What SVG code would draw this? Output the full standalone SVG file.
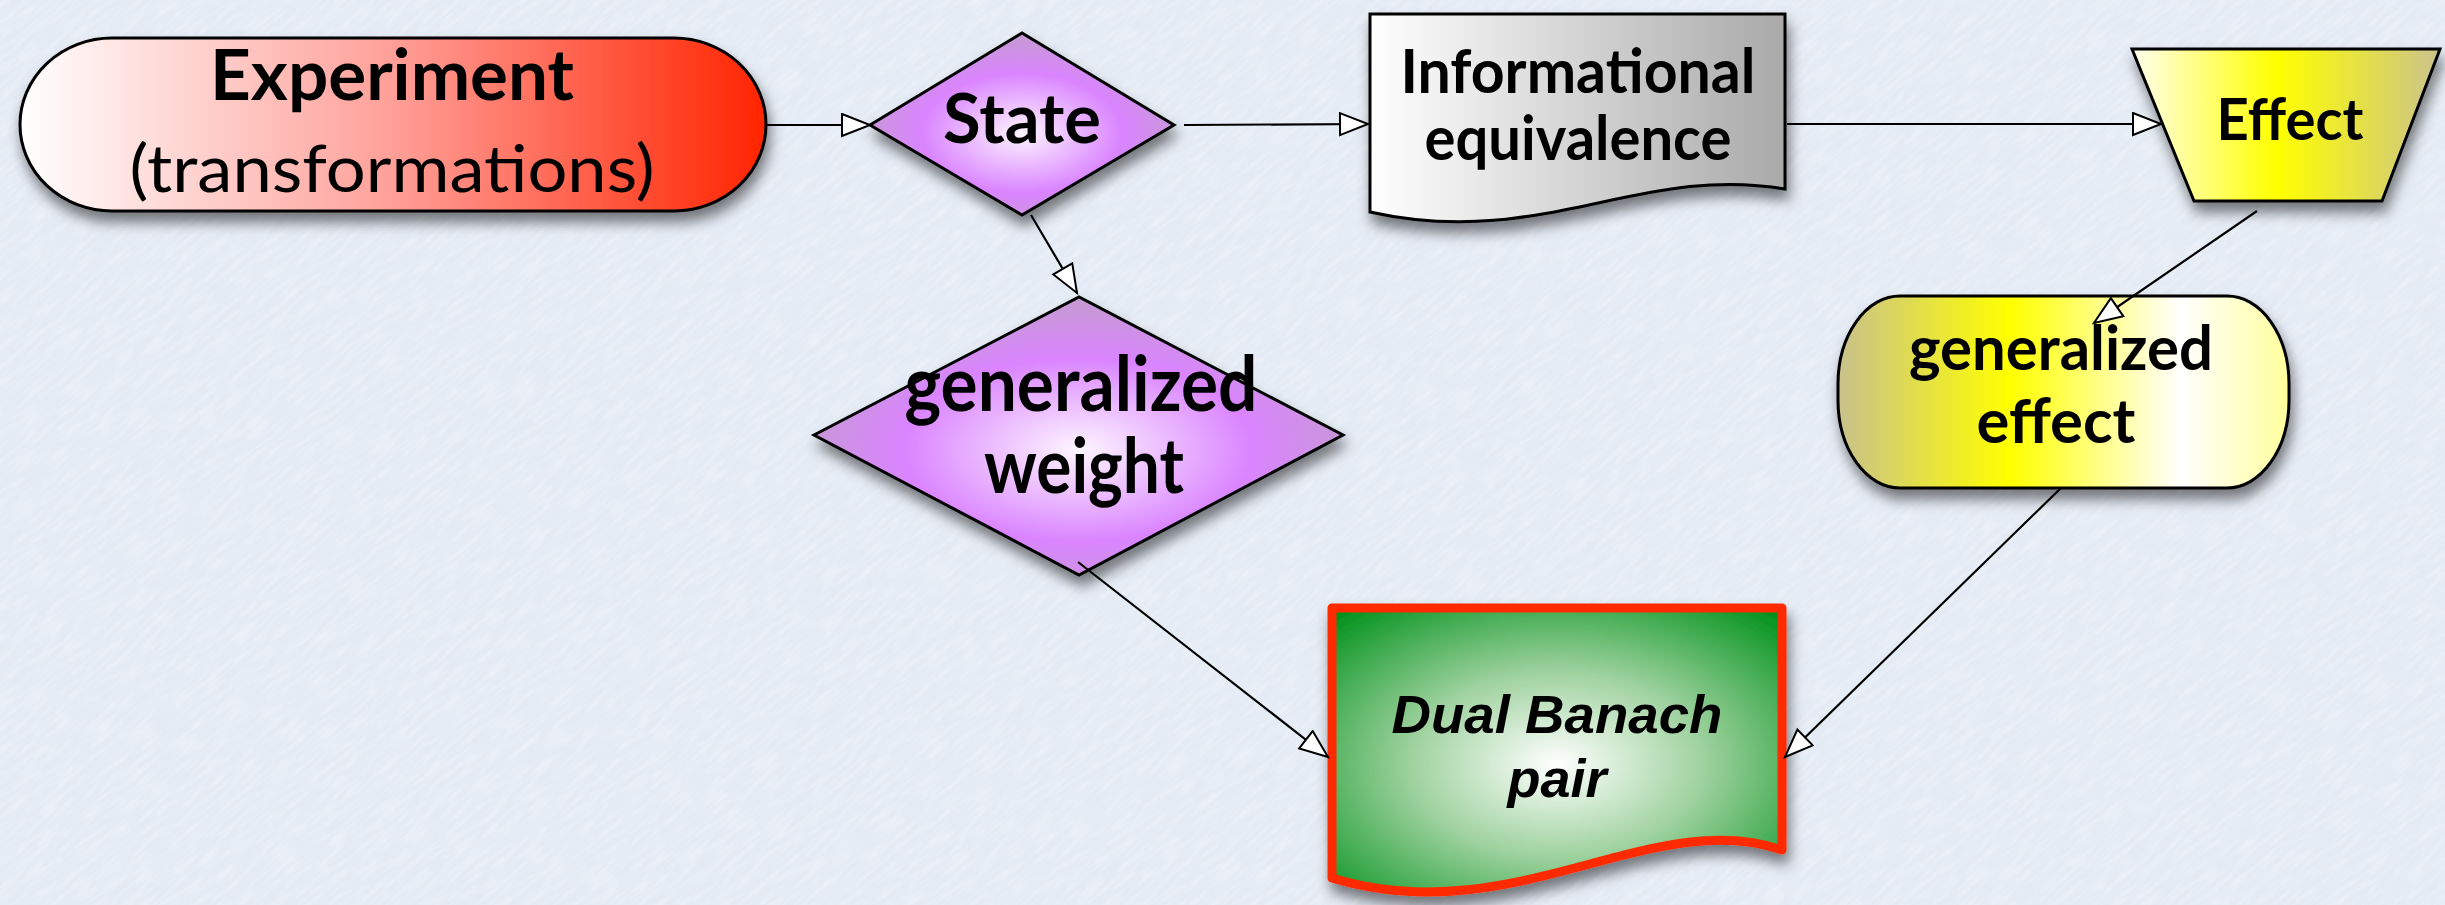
<svg xmlns="http://www.w3.org/2000/svg" width="2445" height="905" viewBox="0 0 2445 905">
<defs>
<style>
.lbl{font-family:Lato,"Open Sans","DejaVu Sans",sans-serif;font-weight:700;fill:#000;text-anchor:middle}
.reg{font-family:Lato,"Open Sans","DejaVu Sans",sans-serif;font-weight:400;fill:#000;text-anchor:middle}
.ital{font-family:"Liberation Sans",Arial,sans-serif;font-weight:700;font-style:italic;fill:#000;text-anchor:middle}
.node{stroke:#000;stroke-width:3;filter:url(#sh)}
.conn{fill:none;stroke:#000;stroke-width:2.2;marker-end:url(#ah)}
</style>
<filter id="sh" x="-20%" y="-20%" width="140%" height="150%">
<feDropShadow dx="3" dy="10" stdDeviation="7" flood-color="#000" flood-opacity="0.5"/>
</filter>
<filter id="paper" filterUnits="userSpaceOnUse" x="-600" y="-1000" width="3700" height="2900">
<feTurbulence type="fractalNoise" baseFrequency="0.035 0.22" numOctaves="3" seed="4"/>
<feColorMatrix type="matrix" values="0 0 0 0 1  0 0 0 0 1  0 0 0 0 1  0 0 0 -1.6 1.0"/>
</filter>
<marker id="ah" markerUnits="userSpaceOnUse" markerWidth="34" markerHeight="26" refX="30" refY="12" orient="auto">
<path d="M2,1 L30,12 L2,23 Z" fill="#fff" stroke="#000" stroke-width="2"/>
</marker>
<linearGradient id="gExp" x1="0" y1="0" x2="1" y2="0">
<stop offset="0" stop-color="#ffffff"/>
<stop offset="0.5" stop-color="#ff9f98"/>
<stop offset="1" stop-color="#ff2400"/>
</linearGradient>
<radialGradient id="gViolet" cx="0.5" cy="0.55" r="0.55">
<stop offset="0" stop-color="#fdf5ff"/>
<stop offset="0.6" stop-color="#da84ff"/>
<stop offset="1" stop-color="#c49ccf"/>
</radialGradient>
<linearGradient id="gGray" x1="0" y1="0" x2="1" y2="0">
<stop offset="0" stop-color="#ffffff"/>
<stop offset="1" stop-color="#a9a9a9"/>
</linearGradient>
<linearGradient id="gEff" x1="0" y1="0" x2="1" y2="0">
<stop offset="0" stop-color="#ffffee"/>
<stop offset="0.47" stop-color="#ffff00"/>
<stop offset="1" stop-color="#cbc38c"/>
</linearGradient>
<linearGradient id="gGenEff" x1="0" y1="0" x2="1" y2="0">
<stop offset="0" stop-color="#c8c18c"/>
<stop offset="0.38" stop-color="#ffff00"/>
<stop offset="0.76" stop-color="#ffffff"/>
<stop offset="1" stop-color="#ffff9c"/>
</linearGradient>
<radialGradient id="gGreen" cx="0.5" cy="0.55" r="0.72">
<stop offset="0" stop-color="#ffffff"/>
<stop offset="0.45" stop-color="#9fd29f"/>
<stop offset="1" stop-color="#00911a"/>
</radialGradient>
</defs>
<rect x="0" y="0" width="2445" height="905" fill="#e4ebf5"/>
<g transform="rotate(-40 1222 452)" opacity="0.4">
<rect x="-600" y="-1000" width="3700" height="2900" filter="url(#paper)"/>
</g>

<g id="experiment">
<rect class="node" x="20" y="38" width="746" height="173" rx="92" ry="86.5" fill="url(#gExp)"/>
<text class="lbl" x="392" y="100" font-size="70" textLength="364" lengthAdjust="spacingAndGlyphs">Experiment</text>
<text class="reg" x="392" y="192" font-size="66" textLength="525" lengthAdjust="spacingAndGlyphs">(transformations)</text>
</g>

<g id="state">
<polygon class="node" points="870,125 1022,33 1174,125 1022,215" fill="url(#gViolet)"/>
<text class="lbl" x="1022" y="143" font-size="68" textLength="158" lengthAdjust="spacingAndGlyphs">State</text>
</g>

<g id="informational-equivalence">
<path class="node" d="M1370,14 H1785 V189 C1640,164 1540,250 1370,212 Z" fill="url(#gGray)"/>
<text class="lbl" x="1578" y="93" font-size="62" textLength="355" lengthAdjust="spacingAndGlyphs">Informational</text>
<text class="lbl" x="1578" y="160" font-size="62" textLength="307" lengthAdjust="spacingAndGlyphs">equivalence</text>
</g>

<g id="effect">
<polygon class="node" points="2132,49 2440,49 2382,201 2194,201" fill="url(#gEff)"/>
<text class="lbl" x="2290" y="140" font-size="58" textLength="147" lengthAdjust="spacingAndGlyphs">Effect</text>
</g>

<g id="generalized-weight">
<polygon class="node" points="814,435 1079,297 1343,435 1079,575" fill="url(#gViolet)"/>
<text class="lbl" x="1081" y="411" font-size="76" textLength="353" lengthAdjust="spacingAndGlyphs">generalized</text>
<text class="lbl" x="1084" y="493" font-size="76" textLength="200" lengthAdjust="spacingAndGlyphs">weight</text>
</g>

<g id="generalized-effect">
<rect class="node" x="1838" y="296" width="451" height="192" rx="62" ry="88" fill="url(#gGenEff)"/>
<text class="lbl" x="2061" y="370" font-size="62" textLength="304" lengthAdjust="spacingAndGlyphs">generalized</text>
<text class="lbl" x="2056" y="443" font-size="62" textLength="159" lengthAdjust="spacingAndGlyphs">effect</text>
</g>

<g id="dual-banach-pair">
<path d="M1332,608 H1782 V850 C1652,805 1512,933 1332,878 Z" fill="url(#gGreen)" stroke="#ff2a00" stroke-width="9" stroke-linejoin="round" filter="url(#sh)"/>
<text class="ital" x="1557" y="733" font-size="54" textLength="331" lengthAdjust="spacingAndGlyphs">Dual Banach</text>
<text class="ital" x="1557" y="797" font-size="54">pair</text>
</g>

<g id="connectors">
<line class="conn" x1="766" y1="125" x2="870" y2="125"/>
<line class="conn" x1="1184" y1="125" x2="1368" y2="124"/>
<line class="conn" x1="1787" y1="124" x2="2161" y2="124"/>
<line class="conn" x1="1031" y1="215" x2="1077" y2="293"/>
<line class="conn" x1="2257" y1="211" x2="2094" y2="323"/>
<line class="conn" x1="1078" y1="562" x2="1328" y2="757"/>
<line class="conn" x1="2061" y1="488" x2="1785" y2="757"/>
</g>
</svg>
